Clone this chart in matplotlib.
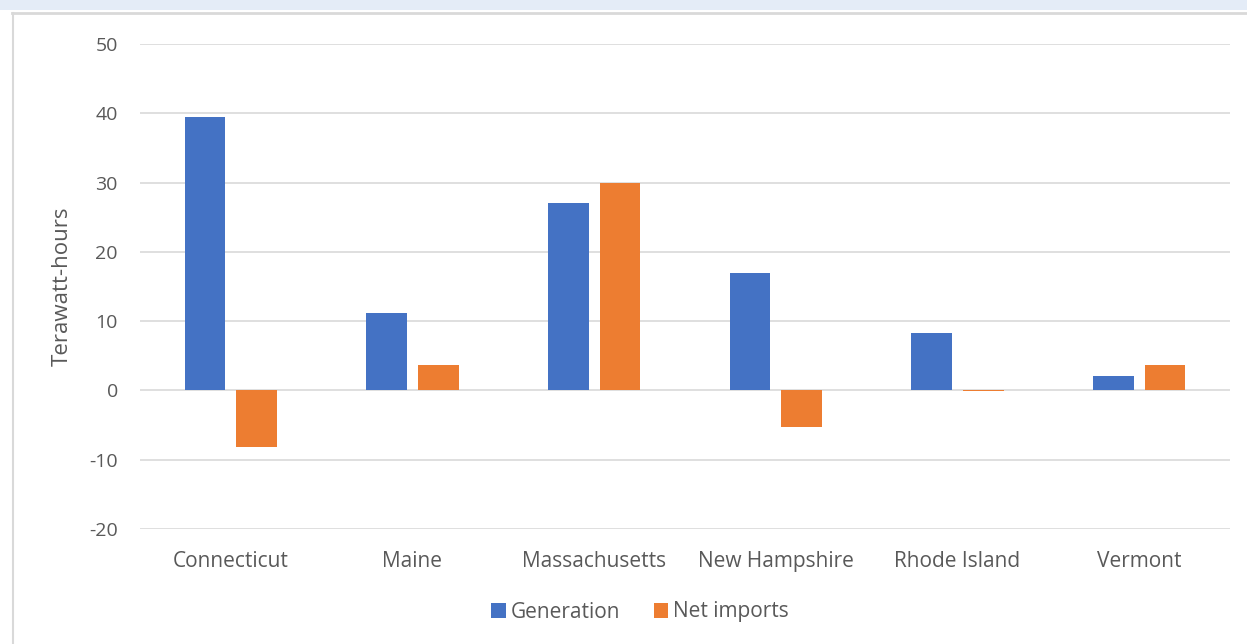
import numpy as np
import matplotlib
import matplotlib.pyplot as plt
from matplotlib.patches import Rectangle
from matplotlib.lines import Line2D

states = ["Connecticut", "Maine", "Massachusetts", "New Hampshire", "Rhode Island", "Vermont"]
generation = [39.4, 11.2, 27.1, 17.0, 8.3, 2.1]
net_imports = [-8.1, 3.7, 29.9, -5.3, -0.1, 3.6]
yticks = [-20, -10, 0, 10, 20, 30, 40, 50]

blue = "#4472C4"
orange = "#ED7D31"
txt = "#595959"
grid = "#D9D9D9"

plt.rcParams['font.family'] = ['Open Sans', 'DejaVu Sans']

fig = plt.figure(figsize=(12.47, 6.44), dpi=100)
fig.patch.set_facecolor("white")

# frame decoration: light blue band at top and grey border
fig.patches.append(Rectangle((0, 1 - 10/644), 1, 10/644, transform=fig.transFigure,
                             facecolor="#E4ECF7", edgecolor="none"))
fig.lines.append(Line2D([12/1247, 1], [1 - 13/644, 1 - 13/644], transform=fig.transFigure,
                        color=grid, lw=2))
fig.lines.append(Line2D([13/1247, 13/1247], [0, 1 - 13/644], transform=fig.transFigure,
                        color=grid, lw=1.5))

ax = fig.add_axes([140/1247, 1 - 529/644, 1090/1247, 485/644])
x = np.arange(len(states))
w = 0.225
off = w/2 + 0.03
ax.bar(x - off, generation, w, color=blue, label="Generation", zorder=3)
ax.bar(x + off, net_imports, w, color=orange, label="Net imports", zorder=3)

ax.set_xlim(-0.5, len(states) - 0.5)
ax.set_ylim(-20, 50)
ax.set_yticks(yticks)
ax.set_yticklabels([str(v) for v in yticks], fontsize=14, color=txt)
ax.set_xticks(x)
ax.set_xticklabels(states, fontsize=15, color=txt)
ax.tick_params(length=0)
ax.tick_params(axis='y', pad=16)
ax.tick_params(axis='x', pad=16)
ax.yaxis.grid(True, color=grid, lw=1.2, zorder=0)
ax.set_axisbelow(True)
for s in ax.spines.values():
    s.set_visible(False)
ax.set_ylabel("Terawatt-hours", fontsize=16, color=txt, labelpad=12)

leg = fig.legend(loc="center", bbox_to_anchor=(640/1247, 1 - 612/644), ncol=2,
                 frameon=False, fontsize=15, handlelength=0.7, handleheight=0.7,
                 handletextpad=0.25, columnspacing=1.6)
for t in leg.get_texts():
    t.set_color(txt)

fig.savefig("out.png", dpi=100)
